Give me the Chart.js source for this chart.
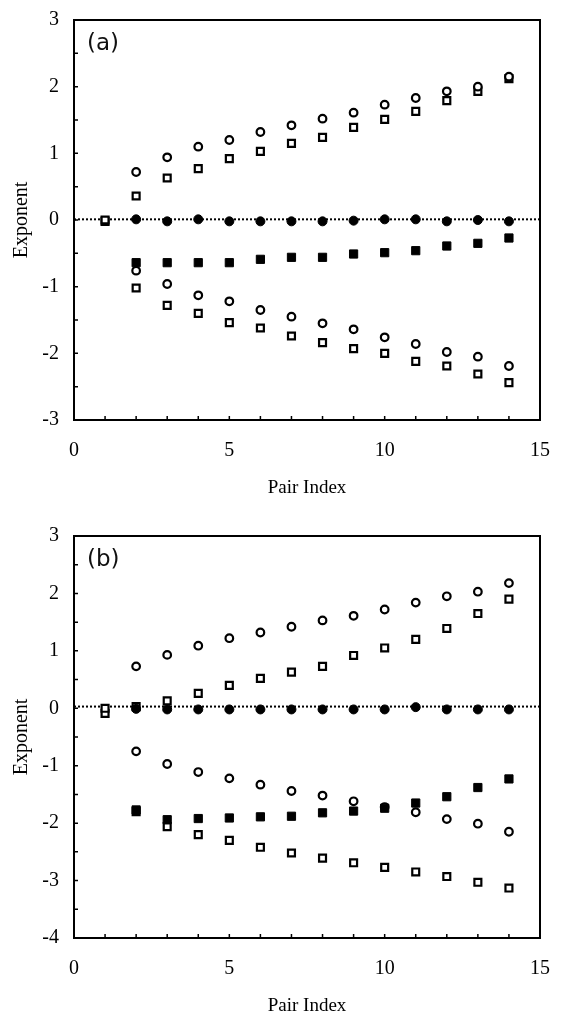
<!DOCTYPE html>
<html>
<head>
<meta charset="utf-8">
<script src="https://cdn.jsdelivr.net/npm/chart.js@4.4.1/dist/chart.umd.min.js"></script>
<style>
  body { margin: 0; background: #fff; }
  .panel { position: absolute; left: 0; }
</style>
</head>
<body>
<div class="panel" style="top:0"><canvas id="chartA" width="561" height="510"></canvas></div>
<div class="panel" style="top:510px"><canvas id="chartB" width="561" height="509"></canvas></div>
<script>
// pair index axis
const pairIndex = [1, 2, 3, 4, 5, 6, 7, 8, 9, 10, 11, 12, 13, 14];
const xTicks = [0, 5, 10, 15];

// panel (a) (x = 2..14 unless noted)
const aUpperCircle = [0.72, 0.94, 1.10, 1.20, 1.32, 1.42, 1.52, 1.61, 1.73, 1.83, 1.93, 2.00, 2.15];
const aUpperSquare = [0.00, 0.36, 0.63, 0.77, 0.92, 1.03, 1.15, 1.24, 1.39, 1.51, 1.63, 1.79, 1.93, 2.12]; // x = 1..14
const aZeroDot = [0.01, -0.02, 0.01, -0.02, -0.02, -0.02, -0.02, -0.01, 0.01, 0.01, -0.02, 0.00, -0.02];
const aFilledSquare = [-0.64, -0.64, -0.64, -0.64, -0.59, -0.56, -0.56, -0.51, -0.49, -0.46, -0.39, -0.35, -0.27];
const aLowerCircle = [-0.76, -0.96, -1.13, -1.22, -1.35, -1.45, -1.55, -1.64, -1.76, -1.86, -1.98, -2.05, -2.19];
const aLowerSquare = [-0.02, -1.02, -1.28, -1.40, -1.54, -1.62, -1.74, -1.84, -1.93, -2.00, -2.12, -2.19, -2.31, -2.44]; // x = 1..14
const aZeroLine = 0.01;

// panel (b)
const bUpperCircle = [0.73, 0.93, 1.09, 1.22, 1.32, 1.42, 1.53, 1.61, 1.72, 1.84, 1.95, 2.03, 2.18];
const bUpperSquare = [0.00, 0.03, 0.13, 0.26, 0.40, 0.52, 0.63, 0.73, 0.92, 1.05, 1.20, 1.39, 1.65, 1.90]; // x = 1..14
const bZeroDot = [-0.01, -0.02, -0.02, -0.02, -0.02, -0.02, -0.02, -0.02, -0.02, 0.02, -0.02, -0.02, -0.02];
const bFilledSquare = [-1.77, -1.94, -1.92, -1.91, -1.89, -1.88, -1.82, -1.79, -1.74, -1.65, -1.54, -1.38, -1.23];
const bLowerCircle = [-0.75, -0.97, -1.11, -1.22, -1.33, -1.44, -1.52, -1.62, -1.72, -1.81, -1.93, -2.01, -2.15];
const bLowerSquare = [-0.09, -1.80, -2.06, -2.20, -2.30, -2.42, -2.52, -2.61, -2.69, -2.77, -2.85, -2.93, -3.03, -3.13]; // x = 1..14
const bZeroLine = 0.03;

const serif = "'Liberation Serif', 'Times New Roman', serif";

function pts(values) {
  // series with fewer values start at pair index 2
  const xs = pairIndex.slice(pairIndex.length - values.length);
  return values.map((v, i) => ({ x: xs[i], y: v }));
}

function openMarker(values, style, r) {
  return { data: pts(values), pointStyle: style, pointRadius: r, borderWidth: 2.2,
    borderColor: '#000', backgroundColor: '#fff', order: 2 };
}
function filledMarker(values, style, r) {
  return { data: pts(values), pointStyle: style, pointRadius: r, borderWidth: 1,
    borderColor: '#000', backgroundColor: '#000', order: 1 };
}

// frame, inward tick marks and the panel letter
const framePlugin = {
  id: 'frame',
  afterDatasetsDraw(chart, args, opts) {
    const { ctx, chartArea: a, scales } = chart;
    ctx.save();
    ctx.strokeStyle = '#000';
    ctx.lineWidth = 2;
    ctx.strokeRect(a.left, a.top, a.right - a.left, a.bottom - a.top);
    ctx.lineWidth = 1.5;
    ctx.beginPath();
    for (let i = 1; i < 15; i++) {
      const px = scales.x.getPixelForValue(i);
      ctx.moveTo(px, a.bottom);
      ctx.lineTo(px, a.bottom - 4);
    }
    for (let v = scales.y.min + 0.5; v < scales.y.max; v += 0.5) {
      const py = scales.y.getPixelForValue(v);
      ctx.moveTo(a.left, py);
      ctx.lineTo(a.left + 4, py);
    }
    ctx.stroke();
    ctx.fillStyle = '#111';
    ctx.font = "23px 'DejaVu Sans'";
    ctx.textBaseline = 'middle';
    ctx.fillText(opts.label, a.left + 13, a.top + 24);
    ctx.restore();
  }
};

function makeChart(id, label, series, zeroLine, yMin, pad, xHeight, titlePad) {
  return new Chart(document.getElementById(id), {
    type: 'scatter',
    data: {
      datasets: [
        openMarker(series[0], 'circle', 3.8),
        openMarker(series[1], 'rect', 4.9),
        filledMarker(series[2], 'circle', 4.5),
        filledMarker(series[3], 'rect', 5.8),
        openMarker(series[4], 'circle', 3.8),
        openMarker(series[5], 'rect', 4.9),
        {
          type: 'line',
          data: [{ x: 0, y: zeroLine }, { x: 15, y: zeroLine }],
          borderColor: '#000', borderWidth: 2, borderDash: [2, 2],
          pointRadius: 0, order: 5
        }
      ]
    },
    options: {
      responsive: false,
      animation: false,
      layout: { padding: pad },
      plugins: { legend: { display: false }, tooltip: { enabled: false }, frame: { label: label } },
      scales: {
        x: {
          type: 'linear', min: 0, max: 15,
          afterBuildTicks: (s) => { s.ticks = xTicks.map(v => ({ value: v })); },
          afterFit: (s) => { s.height = xHeight; },
          grid: { display: false }, border: { display: false },
          ticks: { color: '#000', padding: 11, font: { family: serif, size: 20 } },
          title: { display: true, text: 'Pair Index', color: '#000',
            padding: { top: 0, bottom: titlePad }, font: { family: serif, size: 19 } }
        },
        y: {
          min: yMin, max: 3,
          afterFit: (s) => { s.width = 74; },
          grid: { display: false }, border: { display: false },
          ticks: { stepSize: 1, color: '#000', padding: 7, font: { family: serif, size: 20 } },
          title: { display: true, text: 'Exponent', color: '#000',
            padding: { top: 10, bottom: 0 }, font: { family: serif, size: 20 } }
        }
      }
    },
    plugins: [framePlugin]
  });
}

makeChart('chartA', '(a)',
  [aUpperCircle, aUpperSquare, aZeroDot, aFilledSquare, aLowerCircle, aLowerSquare],
  aZeroLine, -3, { top: 20, right: 11, left: 0, bottom: 0 }, 90, 11);
makeChart('chartB', '(b)',
  [bUpperCircle, bUpperSquare, bZeroDot, bFilledSquare, bLowerCircle, bLowerSquare],
  bZeroLine, -4, { top: 26, right: 12, left: 0, bottom: 0 }, 81, 2);
</script>
</body>
</html>
